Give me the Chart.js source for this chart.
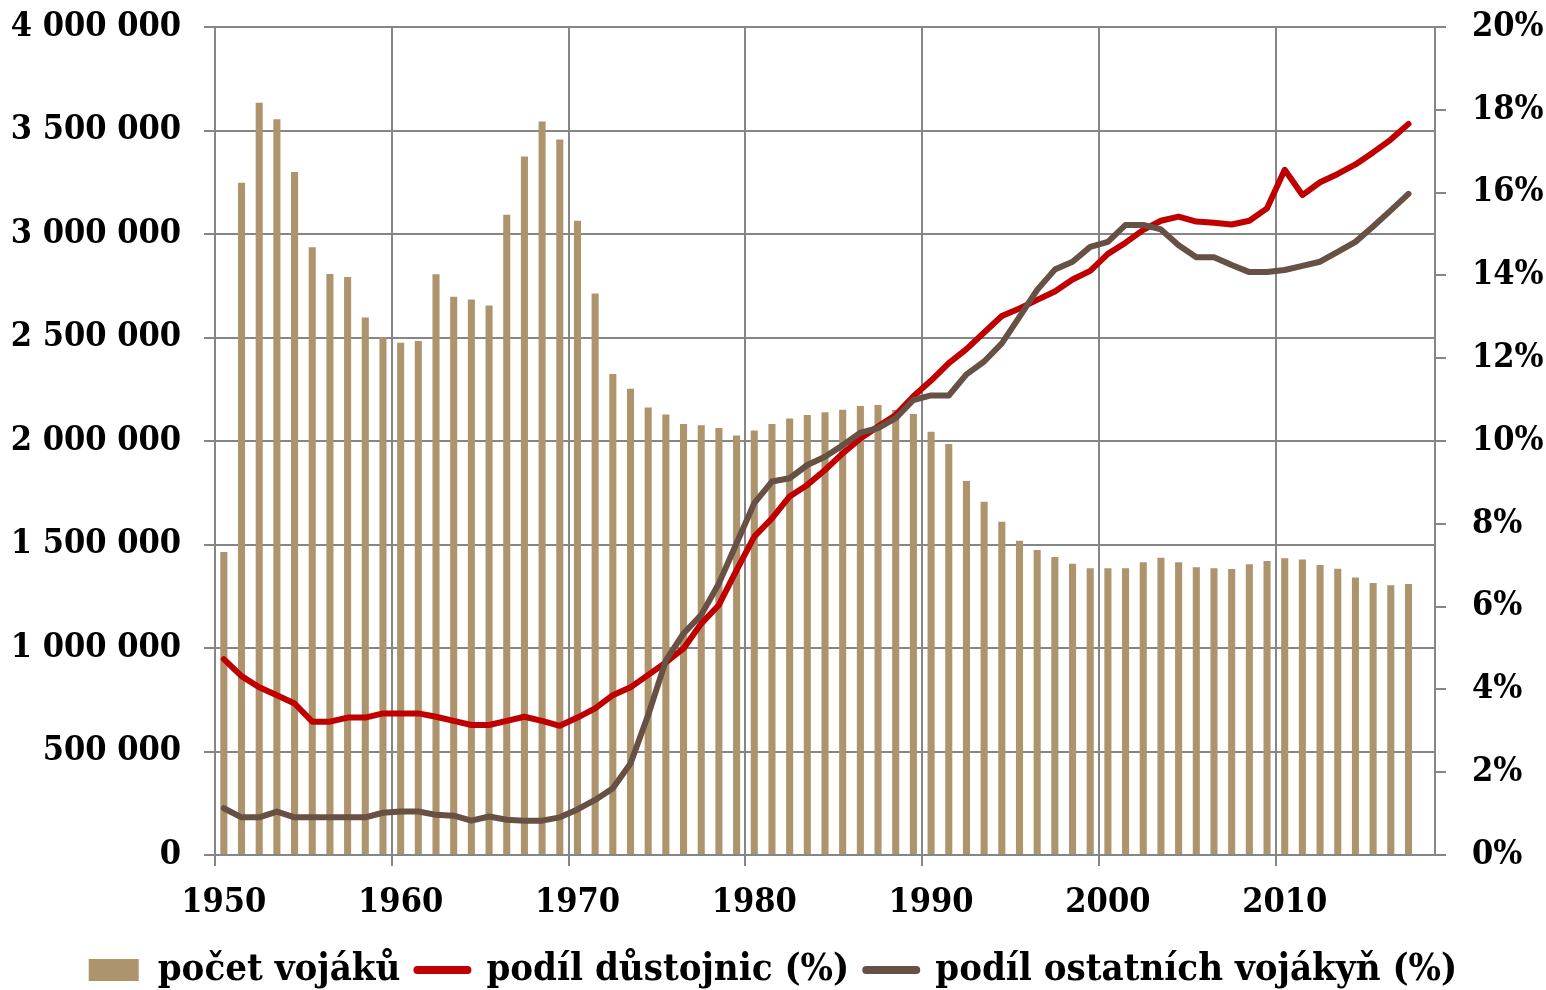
<!DOCTYPE html>
<html>
<head>
<meta charset="utf-8">
<script src="https://cdn.jsdelivr.net/npm/chart.js@4.4.1/dist/chart.umd.min.js"></script>
<style>
  html, body { margin: 0; padding: 0; background: #fff; }
</style>
</head>
<body>
<canvas id="chart" width="1546" height="990"></canvas>
<script>
// years on the category axis (last one is an empty slot, as in the original)
const years = [];
for ( let y = 1950; y <= 2018; y++ ) {
	years.push( y );
}

// number of soldiers (left axis)
const soldiers = [
	1464000, 3248000, 3634000, 3554000, 3300000, 2936000, 2807000, 2792000, 2597000, 2502000,
	2475000, 2483000, 2805000, 2697000, 2684000, 2654000, 3093000, 3375000, 3544000, 3457000,
	3064000, 2713000, 2324000, 2253000, 2162000, 2128000, 2082000, 2076000, 2063000, 2027000,
	2051000, 2082000, 2109000, 2126000, 2139000, 2151000, 2169000, 2174000, 2150000, 2130000,
	2045000, 1985000, 1807000, 1707000, 1610000, 1518000, 1473000, 1440000, 1407000, 1385000,
	1385000, 1385000, 1414000, 1436000, 1414000, 1390000, 1385000, 1382000, 1404000, 1420000,
	1433000, 1427000, 1401000, 1383000, 1340000, 1314000, 1303000, 1309000, null,
];

// share of women among officers, % (right axis)
const officersShare = [
	4.73, 4.32, 4.05, 3.86, 3.66, 3.22, 3.22, 3.32, 3.32, 3.42,
	3.42, 3.42, 3.34, 3.24, 3.14, 3.14, 3.24, 3.34, 3.24, 3.12,
	3.32, 3.54, 3.86, 4.05, 4.35, 4.65, 4.99, 5.59, 6.04, 6.88,
	7.69, 8.13, 8.66, 8.94, 9.30, 9.70, 10.06, 10.35, 10.63, 11.08,
	11.46, 11.88, 12.22, 12.62, 13.02, 13.20, 13.41, 13.61, 13.90, 14.11,
	14.52, 14.79, 15.10, 15.32, 15.42, 15.30, 15.27, 15.23, 15.32, 15.62,
	16.55, 15.94, 16.25, 16.45, 16.68, 16.97, 17.28, 17.66, null,
];

// share of women among other ranks, % (right axis)
const othersShare = [
	1.13, 0.91, 0.91, 1.05, 0.91, 0.91, 0.91, 0.91, 0.91, 1.02,
	1.05, 1.05, 0.97, 0.95, 0.83, 0.93, 0.85, 0.83, 0.83, 0.91,
	1.10, 1.33, 1.61, 2.21, 3.38, 4.70, 5.35, 5.80, 6.56, 7.53,
	8.50, 9.02, 9.10, 9.42, 9.62, 9.90, 10.20, 10.31, 10.55, 10.99,
	11.10, 11.10, 11.61, 11.92, 12.36, 13.00, 13.65, 14.14, 14.33, 14.69,
	14.81, 15.22, 15.22, 15.11, 14.73, 14.44, 14.44, 14.25, 14.08, 14.08,
	14.13, 14.23, 14.33, 14.57, 14.81, 15.18, 15.57, 15.97, null,
];

const leftTicks = { min: 0, max: 4000000, step: 500000 };
const rightTicks = { min: 0, max: 20, step: 2 };

const barColor = '#ad946c';
const redColor = '#c00000';
const brownColor = '#675044';
const gridColor = '#868686';

const formatThousands = ( v ) =>
	String( v ).replace( /\B(?=(\d{3})+(?!\d))/g, ' ' );

Chart.defaults.font.family = "'DejaVu Serif Condensed', 'DejaVu Serif', serif";
Chart.defaults.font.size = 34;
Chart.defaults.font.weight = 'bold';
Chart.defaults.color = '#000';

// push the legend down a little, it sits lower than its own box allows
const legendShift = {
	id: 'legendShift',
	afterLayout( chart ) {
		const legend = chart.legend;
		if ( legend ) {
			legend.top += 9;
			legend.bottom += 9;
		}
	},
};

// vertical axes should not reserve room above/below the plot
const noVerticalPadding = ( s ) => {
	s.paddingTop = 0;
	s.paddingBottom = 0;
};

const ctx = document.getElementById( 'chart' ).getContext( '2d' );

new Chart( ctx, {
	data: {
		labels: years,
		datasets: [
			{
				type: 'bar',
				label: 'počet vojáků',
				data: soldiers,
				backgroundColor: barColor,
				borderWidth: 0,
				categoryPercentage: 1,
				barPercentage: 0.4,
				pointStyle: 'rect',
				yAxisID: 'y',
				order: 3,
			},
			{
				type: 'line',
				label: 'podíl důstojnic (%)',
				data: officersShare,
				borderColor: redColor,
				backgroundColor: redColor,
				borderWidth: 6,
				borderCapStyle: 'round',
				borderJoinStyle: 'round',
				pointRadius: 0,
				pointStyle: 'line',
				tension: 0,
				yAxisID: 'y1',
				order: 2,
			},
			{
				type: 'line',
				label: 'podíl ostatních vojákyň (%)',
				data: othersShare,
				borderColor: brownColor,
				backgroundColor: brownColor,
				borderWidth: 6,
				borderCapStyle: 'round',
				borderJoinStyle: 'round',
				pointRadius: 0,
				pointStyle: 'line',
				tension: 0,
				yAxisID: 'y1',
				order: 1,
			},
		],
	},
	plugins: [ legendShift ],
	options: {
		responsive: false,
		animation: false,
		layout: {
			padding: { top: 27, left: 0, right: 0, bottom: 0 },
		},
		plugins: {
			tooltip: { enabled: false },
			legend: {
				position: 'bottom',
				labels: {
					font: { size: 38 },
					usePointStyle: true,
					pointStyleWidth: 50,
					boxHeight: 22,
					padding: 17,
					sort: ( a, b ) => a.datasetIndex - b.datasetIndex,
					generateLabels: ( chart ) =>
						Chart.defaults.plugins.legend.labels
							.generateLabels( chart )
							.map( ( item ) => {
								if ( item.pointStyle === 'line' ) {
									item.lineWidth = 8;
									item.lineCap = 'round';
								}
								return item;
							} ),
				},
			},
		},
		scales: {
			x: {
				type: 'category',
				offset: true,
				grid: {
					offset: true,
					lineWidth: 2,
					tickLength: 11,
					color: ( c ) => ( c.index % 10 === 0 ? gridColor : 'transparent' ),
				},
				border: { color: gridColor, width: 2 },
				ticks: {
					autoSkip: false,
					maxRotation: 0,
					padding: 17,
					callback( value ) {
						const y = this.getLabelForValue( value );
						return y % 10 === 0 ? String( y ) : '';
					},
				},
				afterFit: ( s ) => {
					s.height = 70;
				},
			},
			y: {
				position: 'left',
				min: leftTicks.min,
				max: leftTicks.max,
				ticks: {
					stepSize: leftTicks.step,
					padding: 23,
					callback: ( v ) => formatThousands( v ),
				},
				grid: { color: gridColor, lineWidth: 2, tickLength: 11 },
				border: { color: gridColor, width: 2 },
				afterFit: ( s ) => {
					s.width = 215;
					noVerticalPadding( s );
				},
			},
			y1: {
				position: 'right',
				min: rightTicks.min,
				max: rightTicks.max,
				ticks: {
					stepSize: rightTicks.step,
					padding: 26,
					callback: ( v ) => v + '%',
				},
				grid: {
					drawOnChartArea: false,
					color: gridColor,
					lineWidth: 2,
					tickLength: 11,
				},
				border: { color: gridColor, width: 2 },
				afterFit: ( s ) => {
					s.width = 111;
					noVerticalPadding( s );
				},
			},
		},
	},
} );
</script>
</body>
</html>
